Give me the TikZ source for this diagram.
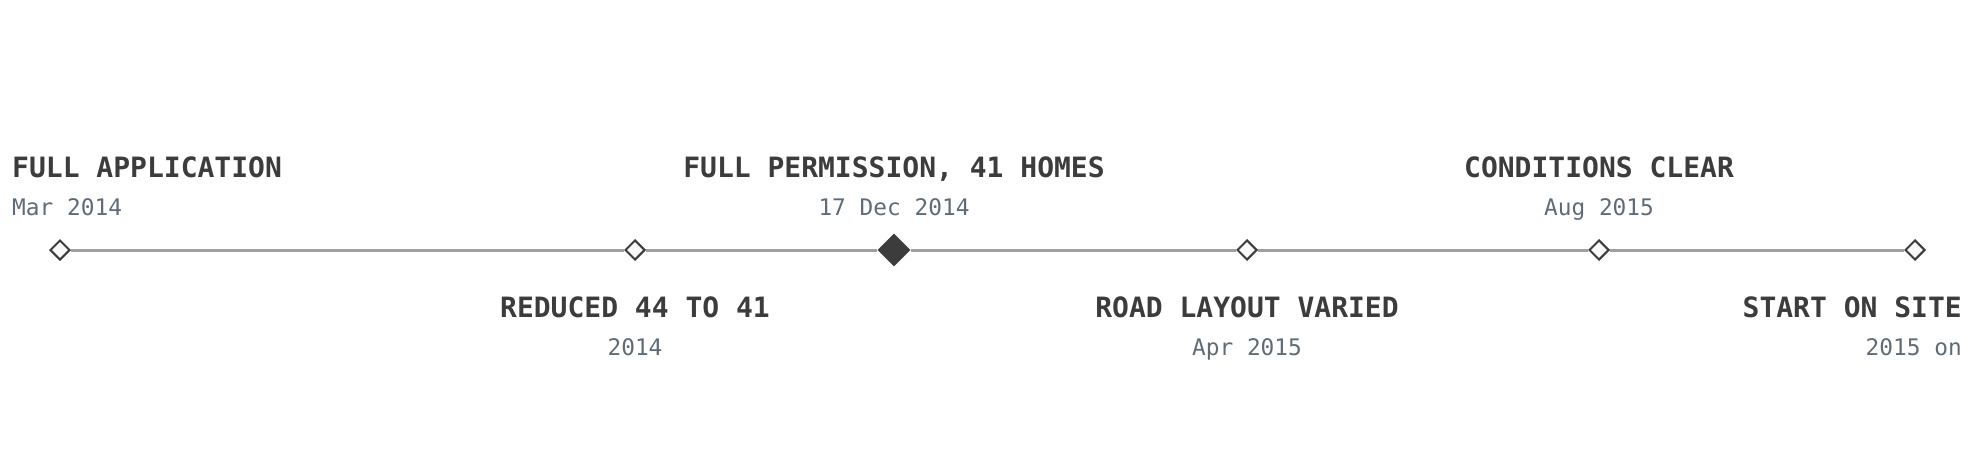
\documentclass[tikz,border=0pt]{standalone}
\usepackage{fontspec}
\setmonofont{DejaVu Sans Mono}
\usetikzlibrary{shapes.geometric}
\definecolor{ink}{HTML}{3C3C3C}
\definecolor{datecol}{HTML}{5F6B77}
\definecolor{rail}{HTML}{9AA0A6}
\definecolor{paper}{HTML}{F8F9FB}

\begin{document}
\begin{tikzpicture}[x=1pt, y=-1pt,
  event/.style={diamond, draw=ink, line width=2pt, fill=paper, inner sep=0pt, minimum size=20pt},
  keyevent/.style={diamond, fill=ink, inner sep=0pt, minimum size=33pt},
  title/.style={font=\ttfamily\bfseries\fontsize{28}{32}\selectfont, text=ink, inner sep=0pt},
  when/.style={font=\ttfamily\fontsize{22.8}{26}\selectfont, text=datecol, inner sep=0pt}]
\useasboundingbox (0,0) rectangle (1975,475);

\node[event] (d1) at (60,250) {};
\node[event] (d2) at (635,250) {};
\node[keyevent] (d3) at (894,250) {};
\node[event] (d4) at (1247,250) {};
\node[event] (d5) at (1599,250) {};
\node[event] (d6) at (1915,250) {};
\foreach \a/\b in {d1/d2, d2/d3, d3/d4, d4/d5, d5/d6}
  \draw [rail, line width=3pt] (\a) -- (\b);

\node[title, anchor=base west] (t1) at (12,177) {FULL APPLICATION};
\node[when, anchor=base west] (w1) at (12,215) {Mar 2014};
\node[title, anchor=base] (t2) at (635,317) {REDUCED 44 TO 41};
\node[when, anchor=base] (w2) at (635,355) {2014};
\node[title, anchor=base] (t3) at (894,177) {FULL PERMISSION, 41 HOMES};
\node[when, anchor=base] (w3) at (894,215) {17 Dec 2014};
\node[title, anchor=base] (t4) at (1247,317) {ROAD LAYOUT VARIED};
\node[when, anchor=base] (w4) at (1247,355) {Apr 2015};
\node[title, anchor=base] (t5) at (1599,177) {CONDITIONS CLEAR};
\node[when, anchor=base] (w5) at (1599,215) {Aug 2015};
\node[title, anchor=base east] (t6) at (1962,317) {START ON SITE};
\node[when, anchor=base east] (w6) at (1962,355) {2015 on};
\end{tikzpicture}
\end{document}
